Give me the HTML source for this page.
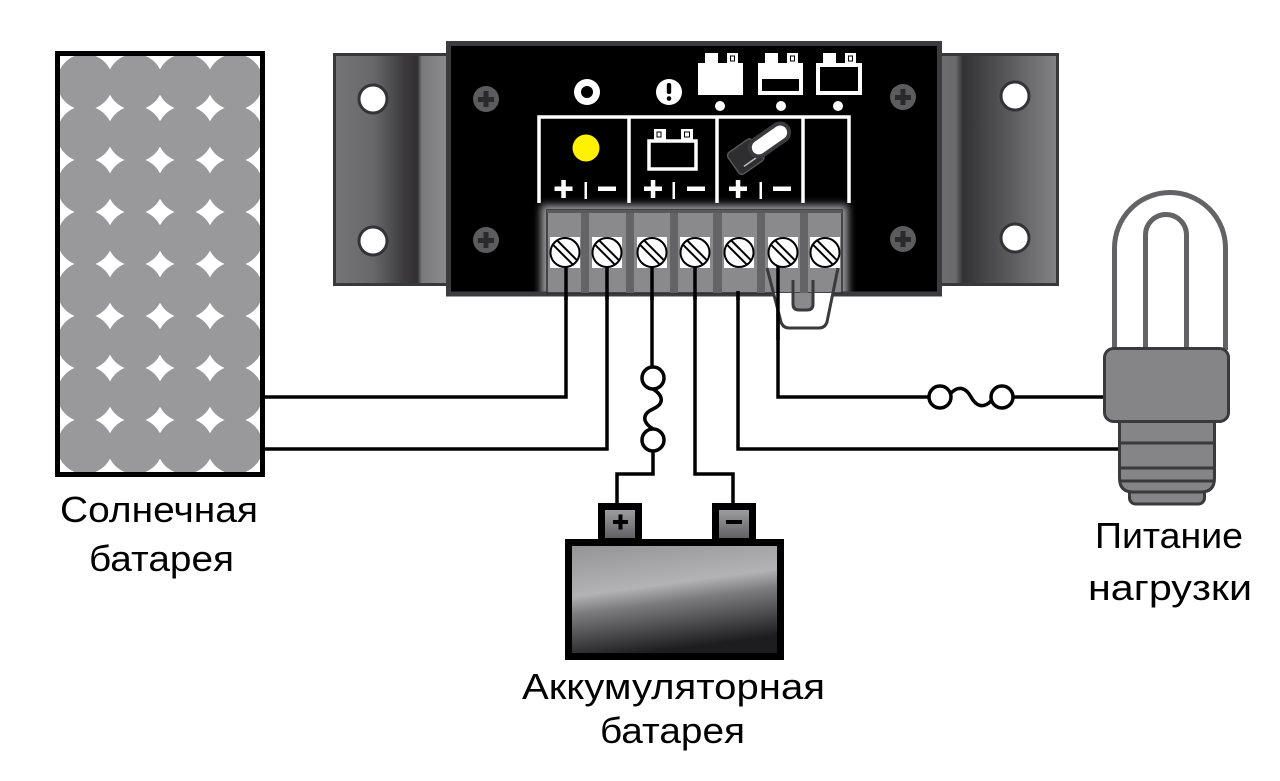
<!DOCTYPE html>
<html><head><meta charset="utf-8">
<style>html,body{margin:0;padding:0;background:#fff;}svg{display:block;}</style>
</head><body>
<svg width="1280" height="781" viewBox="0 0 1280 781" xmlns="http://www.w3.org/2000/svg">
<defs>
 <clipPath id="panelClip"><rect x="60" y="56" width="200" height="416"/></clipPath>
 <clipPath id="bodyClip"><rect x="451" y="46" width="486" height="246"/></clipPath>
 <linearGradient id="brL" x1="333" y1="0" x2="447" y2="0" gradientUnits="userSpaceOnUse">
  <stop offset="0" stop-color="#767578"/>
  <stop offset="0.35" stop-color="#68676a"/>
  <stop offset="0.62" stop-color="#3c3b3e"/>
  <stop offset="0.74" stop-color="#2f2e31"/>
  <stop offset="0.78" stop-color="#7a797c"/>
  <stop offset="1" stop-color="#8b8a8d"/>
 </linearGradient>
 <linearGradient id="brR" x1="939" y1="0" x2="1058" y2="0" gradientUnits="userSpaceOnUse">
  <stop offset="0" stop-color="#6e6d70"/>
  <stop offset="0.14" stop-color="#6a696c"/>
  <stop offset="0.2" stop-color="#323134"/>
  <stop offset="0.3" stop-color="#3c3b3e"/>
  <stop offset="1" stop-color="#858487"/>
 </linearGradient>
 <linearGradient id="batG" x1="0" y1="0" x2="0.25" y2="1">
  <stop offset="0" stop-color="#929194"/>
  <stop offset="0.45" stop-color="#b3b2b5"/>
  <stop offset="0.6" stop-color="#7c7b7e"/>
  <stop offset="1" stop-color="#1d1c1f"/>
 </linearGradient>
 <linearGradient id="termG" x1="0" y1="0" x2="0" y2="1">
  <stop offset="0" stop-color="#a4a3a6"/>
  <stop offset="1" stop-color="#5a595c"/>
 </linearGradient>
 <filter id="glow" x="-20%" y="-30%" width="140%" height="160%"><feGaussianBlur stdDeviation="4"/></filter>
</defs>

<!-- Solar panel -->
<g clip-path="url(#panelClip)" fill="#99989b">
 <circle cx="85" cy="82" r="28"/><circle cx="135" cy="82" r="28"/><circle cx="185" cy="82" r="28"/><circle cx="235" cy="82" r="28"/>
 <circle cx="85" cy="134" r="28"/><circle cx="135" cy="134" r="28"/><circle cx="185" cy="134" r="28"/><circle cx="235" cy="134" r="28"/>
 <circle cx="85" cy="186" r="28"/><circle cx="135" cy="186" r="28"/><circle cx="185" cy="186" r="28"/><circle cx="235" cy="186" r="28"/>
 <circle cx="85" cy="238" r="28"/><circle cx="135" cy="238" r="28"/><circle cx="185" cy="238" r="28"/><circle cx="235" cy="238" r="28"/>
 <circle cx="85" cy="290" r="28"/><circle cx="135" cy="290" r="28"/><circle cx="185" cy="290" r="28"/><circle cx="235" cy="290" r="28"/>
 <circle cx="85" cy="342" r="28"/><circle cx="135" cy="342" r="28"/><circle cx="185" cy="342" r="28"/><circle cx="235" cy="342" r="28"/>
 <circle cx="85" cy="394" r="28"/><circle cx="135" cy="394" r="28"/><circle cx="185" cy="394" r="28"/><circle cx="235" cy="394" r="28"/>
 <circle cx="85" cy="446" r="28"/><circle cx="135" cy="446" r="28"/><circle cx="185" cy="446" r="28"/><circle cx="235" cy="446" r="28"/>
</g>
<rect x="57.5" y="53.5" width="205" height="421" fill="none" stroke="#000" stroke-width="5"/>

<!-- Wires -->
<g fill="none" stroke="#000" stroke-width="3.5">
 <path d="M263 397 H566 V268"/>
 <path d="M263 449 H607 V268"/>
 <path d="M652 268 V367"/>
 <path d="M653 451 V474 H617 V505"/>
 <path d="M695 268 V474 H733 V505"/>
 <path d="M738 293 V449 H1120"/>
 <path d="M778 268 V397 H929"/>
 <path d="M1013 397 H1105"/>
 <circle cx="653" cy="378" r="11" fill="#fff"/>
 <circle cx="653" cy="440" r="11" fill="#fff"/>
 <path d="M653 389 C664 396,664 404,653 409 C642 414,642 422,653 429"/>
 <circle cx="940" cy="397" r="11" fill="#fff"/>
 <circle cx="1002" cy="397" r="11" fill="#fff"/>
 <path d="M951 393 C959 385,966 388,971 397 C976 406,983 409,991 401"/>
</g>

<!-- Brackets -->
<rect x="334.5" y="54.5" width="114" height="230" fill="url(#brL)" stroke="#38373a" stroke-width="3"/>
<rect x="938.5" y="54.5" width="119" height="230" fill="url(#brR)" stroke="#38373a" stroke-width="3"/>
<g fill="#fff" stroke="#333235" stroke-width="3">
 <circle cx="373" cy="99" r="14"/><circle cx="373" cy="241" r="14"/>
 <circle cx="1015" cy="96" r="14"/><circle cx="1015" cy="238" r="14"/>
</g>

<!-- Main body -->
<rect x="448.5" y="43.5" width="491" height="250.5" fill="#000"/>
<g clip-path="url(#bodyClip)">
 <rect x="541" y="205" width="307" height="95" fill="#9a999c" filter="url(#glow)"/>
</g>
<rect x="448.5" y="43.5" width="491" height="250.5" fill="none" stroke="#3c3c3e" stroke-width="5"/>

<!-- Body screws -->
<g>
 <circle cx="486" cy="99" r="13" fill="#5c5b5e"/><circle cx="486" cy="240" r="13" fill="#5c5b5e"/>
 <circle cx="903" cy="97" r="13" fill="#5c5b5e"/><circle cx="903" cy="239" r="13" fill="#5c5b5e"/>
 <g fill="#2a292c">
  <rect x="478" y="97" width="16" height="5"/><rect x="483.5" y="91" width="5" height="16"/>
  <rect x="478" y="238" width="16" height="5"/><rect x="483.5" y="232" width="5" height="16"/>
  <rect x="895" y="95" width="16" height="5"/><rect x="900.5" y="89" width="5" height="16"/>
  <rect x="895" y="237" width="16" height="5"/><rect x="900.5" y="231" width="5" height="16"/>
 </g>
</g>

<!-- Top indicator icons -->
<circle cx="587" cy="92" r="13" fill="#fff"/><circle cx="587" cy="92" r="6" fill="#000"/>
<circle cx="669" cy="92" r="13" fill="#fff"/>
<rect x="666.8" y="83" width="4.4" height="11" rx="2" fill="#000"/><circle cx="669" cy="98.5" r="2.3" fill="#000"/>
<rect x="698" y="63" width="45" height="32" fill="#fff"/>
<rect x="705" y="53" width="13" height="11" fill="#fff"/>
<rect x="727" y="53" width="11" height="11" fill="#fff"/><rect x="730.5" y="56" width="4" height="5" fill="none" stroke="#000" stroke-width="1"/>
<rect x="758" y="63" width="45" height="32" fill="#fff"/>
<rect x="762" y="79" width="37" height="12" fill="#000"/>
<rect x="765" y="53" width="13" height="11" fill="#fff"/>
<rect x="787" y="53" width="11" height="11" fill="#fff"/><rect x="790.5" y="56" width="4" height="5" fill="none" stroke="#000" stroke-width="1"/>
<rect x="818" y="65" width="42" height="28" fill="#000" stroke="#fff" stroke-width="4"/>
<rect x="823" y="53" width="13" height="11" fill="#fff"/>
<rect x="845" y="53" width="11" height="11" fill="#fff"/><rect x="848.5" y="56" width="4" height="5" fill="none" stroke="#000" stroke-width="1"/>
<circle cx="720" cy="106" r="5" fill="#fff"/><circle cx="781" cy="106" r="5" fill="#fff"/><circle cx="838" cy="106" r="5" fill="#fff"/>

<!-- frame -->
<g stroke="#fff" stroke-width="3.5" fill="none">
 <path d="M539 203 V117 H849 V203"/>
 <path d="M629 117 V203"/><path d="M717 117 V203"/><path d="M803 117 V203"/>
</g>
<circle cx="586" cy="148" r="13.5" fill="#fff200"/>
<rect x="649" y="141" width="47" height="28" fill="none" stroke="#fff" stroke-width="3.5"/>
<rect x="654" y="129" width="12" height="11" fill="#fff"/><rect x="657" y="132" width="4" height="5" fill="none" stroke="#000" stroke-width="1"/>
<rect x="681" y="129" width="12" height="11" fill="#fff"/><rect x="684.5" y="132" width="5" height="5" fill="none" stroke="#000" stroke-width="1"/>
<g transform="translate(758,148) rotate(-35)">
 <rect x="-30" y="-13" width="30" height="26" rx="4" fill="#2e2e30" stroke="#555" stroke-width="1.5"/>
 <line x1="-22" y1="7" x2="-4" y2="7" stroke="#bbb" stroke-width="1.5"/>
 <rect x="-10" y="-11" width="48" height="22" rx="11" fill="#3a3a3c"/>
 <rect x="-6" y="-7" width="40" height="14" rx="7" fill="#fff"/>
</g>
<g fill="#fff">
 <rect x="554.5" y="186.5" width="18" height="4.5"/><rect x="561.3" y="180" width="4.5" height="18"/>
 <rect x="584.5" y="182" width="2.5" height="17"/>
 <rect x="598" y="186.5" width="18" height="4.5"/>
 <rect x="644" y="186.5" width="18" height="4.5"/><rect x="650.8" y="180" width="4.5" height="18"/>
 <rect x="672.5" y="182" width="2.5" height="17"/>
 <rect x="687" y="186.5" width="18" height="4.5"/>
 <rect x="729" y="186.5" width="18" height="4.5"/><rect x="735.8" y="180" width="4.5" height="18"/>
 <rect x="759.5" y="182" width="2.5" height="17"/>
 <rect x="773" y="186.5" width="18" height="4.5"/>
</g>

<!-- Terminal block -->
<rect x="547" y="210" width="295" height="83" fill="#8a898c" stroke="#2c2c2e" stroke-width="1.5"/>
<g fill="#646366">
 <rect x="581" y="210" width="8" height="83"/><rect x="626" y="210" width="8" height="83"/>
 <rect x="670" y="210" width="8" height="83"/><rect x="713" y="210" width="9" height="83"/>
 <rect x="757" y="210" width="8" height="83"/><rect x="800" y="210" width="8" height="83"/>
</g>
<rect x="547" y="210" width="295" height="3" fill="#5a595c"/>
<g fill="#fff">
 <rect x="550" y="237" width="30" height="31"/>
 <rect x="592" y="237" width="30" height="31"/>
 <rect x="637" y="237" width="30" height="31"/>
 <rect x="680" y="237" width="30" height="31"/>
 <rect x="724" y="237" width="30" height="31"/>
 <rect x="768" y="237" width="30" height="31"/>
 <rect x="810" y="237" width="30" height="31"/>
</g>
<g fill="#fff" stroke="#000" stroke-width="2">
 <g transform="translate(565,252.5) rotate(45)"><circle r="14.5"/><line x1="-13.5" y1="-3" x2="13.5" y2="-3"/><line x1="-13.5" y1="3" x2="13.5" y2="3"/></g>
 <g transform="translate(607,252.5) rotate(45)"><circle r="14.5"/><line x1="-13.5" y1="-3" x2="13.5" y2="-3"/><line x1="-13.5" y1="3" x2="13.5" y2="3"/></g>
 <g transform="translate(652,252.5) rotate(45)"><circle r="14.5"/><line x1="-13.5" y1="-3" x2="13.5" y2="-3"/><line x1="-13.5" y1="3" x2="13.5" y2="3"/></g>
 <g transform="translate(695,252.5) rotate(45)"><circle r="14.5"/><line x1="-13.5" y1="-3" x2="13.5" y2="-3"/><line x1="-13.5" y1="3" x2="13.5" y2="3"/></g>
 <g transform="translate(739,252.5) rotate(45)"><circle r="14.5"/><line x1="-13.5" y1="-3" x2="13.5" y2="-3"/><line x1="-13.5" y1="3" x2="13.5" y2="3"/></g>
 <g transform="translate(783,252.5) rotate(45)"><circle r="14.5"/><line x1="-13.5" y1="-3" x2="13.5" y2="-3"/><line x1="-13.5" y1="3" x2="13.5" y2="3"/></g>
 <g transform="translate(825,252.5) rotate(45)"><circle r="14.5"/><line x1="-13.5" y1="-3" x2="13.5" y2="-3"/><line x1="-13.5" y1="3" x2="13.5" y2="3"/></g>
</g>

<!-- Jumper -->
<path d="M773.5 293 L781 322 Q783 328 789 328 L819 328 Q825 328 827 322 L832.9 293 Z" fill="#fff"/>
<path d="M793 293 V304 Q793 310 799 310 H807 Q813 310 813 304 V293 Z" fill="#8a898c"/>
<g fill="none" stroke="#3a393c" stroke-width="3">
 <path d="M767 268 L781 322 Q783 328 789 328 L819 328 Q825 328 827 322 L838 268"/>
 <path d="M793 280 V304 Q793 310 799 310 H807 Q813 310 813 304 V280"/>
</g>
<g stroke="#000" stroke-width="3.5">
 <line x1="566" y1="266" x2="566" y2="300"/>
 <line x1="607" y1="266" x2="607" y2="300"/>
 <line x1="652" y1="266" x2="652" y2="300"/>
 <line x1="695" y1="266" x2="695" y2="300"/>
 <line x1="738" y1="291" x2="738" y2="300"/>
 <line x1="778" y1="266" x2="778" y2="340"/>
</g>

<!-- Battery -->
<rect x="601.5" y="506.5" width="37" height="35" fill="url(#termG)" stroke="#000" stroke-width="7"/>
<rect x="715.5" y="506.5" width="37" height="35" fill="url(#termG)" stroke="#000" stroke-width="7"/>
<rect x="613" y="520" width="15" height="4" fill="#000"/><rect x="618.5" y="514.5" width="4" height="15" fill="#000"/>
<rect x="726" y="520" width="16" height="4" fill="#000"/>
<rect x="568.5" y="542.5" width="212" height="114" fill="url(#batG)" stroke="#000" stroke-width="7"/>

<!-- Lamp -->
<path d="M1114.5 350 V248 A55.5 55.5 0 0 1 1225.5 248 V350" fill="#fff" stroke="#636265" stroke-width="5"/>
<path d="M1145.5 350 V235 A20.5 20.5 0 0 1 1186.5 235 V350" fill="none" stroke="#636265" stroke-width="5"/>
<rect x="1129.5" y="480" width="75" height="24" rx="6" fill="#858487" stroke="#3a393c" stroke-width="3"/>
<path d="M1119.5 418 V478 Q1119.5 492 1133 492 H1201 Q1214.5 492 1214.5 478 V418 Z" fill="#858487" stroke="#3a393c" stroke-width="3"/>
<g stroke="#3a393c" stroke-width="3">
 <line x1="1119" y1="443" x2="1215" y2="443"/>
 <line x1="1119" y1="468" x2="1215" y2="468"/>
 <line x1="1121" y1="481" x2="1213" y2="481"/>
</g>
<rect x="1104.5" y="348.5" width="124" height="73" rx="9" fill="#858487" stroke="#3a393c" stroke-width="3"/>

<!-- Labels -->
<g font-family="'Liberation Sans','DejaVu Sans',sans-serif" font-size="36" fill="#000">
 <text x="60" y="522" textLength="198" lengthAdjust="spacingAndGlyphs">Солнечная</text>
 <text x="89" y="571" textLength="145" lengthAdjust="spacingAndGlyphs">батарея</text>
 <text x="522" y="699" textLength="303" lengthAdjust="spacingAndGlyphs">Аккумуляторная</text>
 <text x="600" y="743" textLength="145" lengthAdjust="spacingAndGlyphs">батарея</text>
 <text x="1095" y="548" textLength="148" lengthAdjust="spacingAndGlyphs">Питание</text>
 <text x="1088" y="600" textLength="164" lengthAdjust="spacingAndGlyphs">нагрузки</text>
</g>
</svg>
</body></html>
